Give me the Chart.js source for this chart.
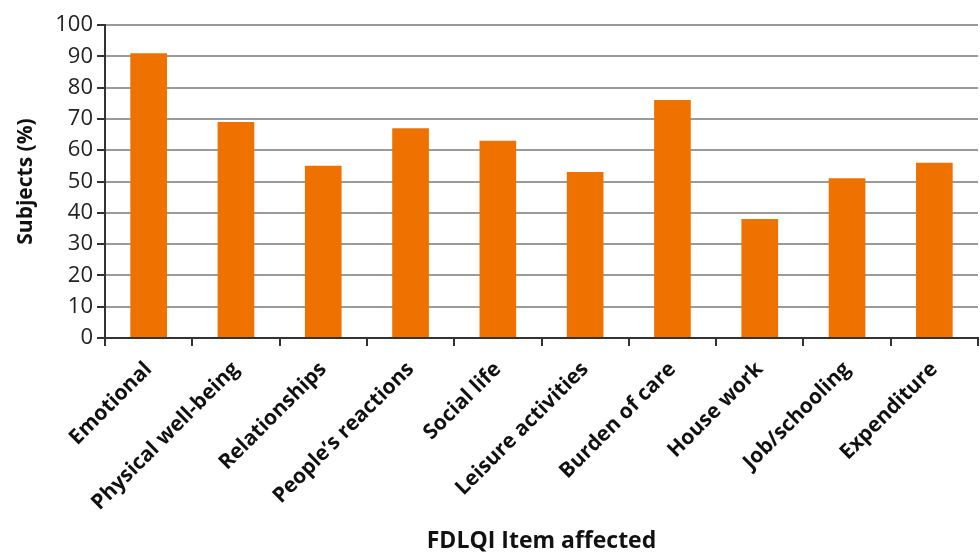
<!DOCTYPE html>
<html>
<head>
<meta charset="utf-8">
<script src="https://cdn.jsdelivr.net/npm/chart.js@4/dist/chart.umd.min.js"></script>
<style>
  html, body { margin: 0; padding: 0; background: #ffffff; }
  #wrap { width: 980px; height: 555px; position: relative; }
</style>
</head>
<body>
<div id="wrap"><canvas id="chart" width="980" height="555"></canvas></div>
<script>
// FDLQI items and share of subjects affected (%)
const categories = [
  "Emotional",
  "Physical well-being",
  "Relationships",
  "People\u2019s reactions",
  "Social life",
  "Leisure activities",
  "Burden of care",
  "House work",
  "Job/schooling",
  "Expenditure"
];
const subjectsPct = [91, 69, 55, 67, 63, 53, 76, 38, 51, 56];
const yTickMin = 0;
const yTickMax = 100;
const yTickStep = 10;

const FONT = "'Open Sans', 'DejaVu Sans', sans-serif";
const AXIS_DARK = "#333333";

new Chart(document.getElementById("chart"), {
  type: "bar",
  data: {
    labels: categories,
    datasets: [{
      label: "Subjects (%)",
      data: subjectsPct,
      backgroundColor: "#EF7200",
      borderWidth: 0,
      categoryPercentage: 1.0,
      barPercentage: 0.42
    }]
  },
  options: {
    responsive: false,
    animation: false,
    devicePixelRatio: 1,
    layout: { padding: { top: 25, right: 2, bottom: 0, left: 13 } },
    plugins: {
      legend: { display: false },
      tooltip: { enabled: false }
    },
    scales: {
      x: {
        offset: true,
        grid: {
          display: true,
          offset: true,
          drawOnChartArea: false,
          drawTicks: true,
          tickLength: 8,
          color: AXIS_DARK,
          lineWidth: 2
        },
        border: { display: true, color: AXIS_DARK, width: 2 },
        ticks: {
          minRotation: 45,
          maxRotation: 45,
          autoSkip: false,
          padding: 11,
          color: "#111111",
          font: { family: FONT, size: 21, weight: "bold" }
        },
        title: {
          display: true,
          text: "FDLQI Item affected",
          color: "#111111",
          font: { family: FONT, size: 23, weight: "bold" },
          padding: { top: 0, bottom: 0 }
        },
        afterFit: (scale) => { scale.height = 217; }
      },
      y: {
        min: yTickMin,
        max: yTickMax,
        grid: {
          color: "#9a9a9a",
          lineWidth: 2,
          drawTicks: true,
          tickLength: 8,
          tickColor: AXIS_DARK,
          tickWidth: 2
        },
        border: { display: true, color: AXIS_DARK, width: 2 },
        ticks: {
          stepSize: yTickStep,
          padding: 4,
          color: "#222222",
          font: { family: FONT, size: 22 }
        },
        title: {
          display: true,
          text: "Subjects (%)",
          color: "#111111",
          font: { family: FONT, size: 21, weight: "bold" },
          padding: { top: 0, bottom: 4 }
        },
        afterFit: (scale) => { scale.width = 92; }
      }
    }
  }
});
</script>
</body>
</html>
